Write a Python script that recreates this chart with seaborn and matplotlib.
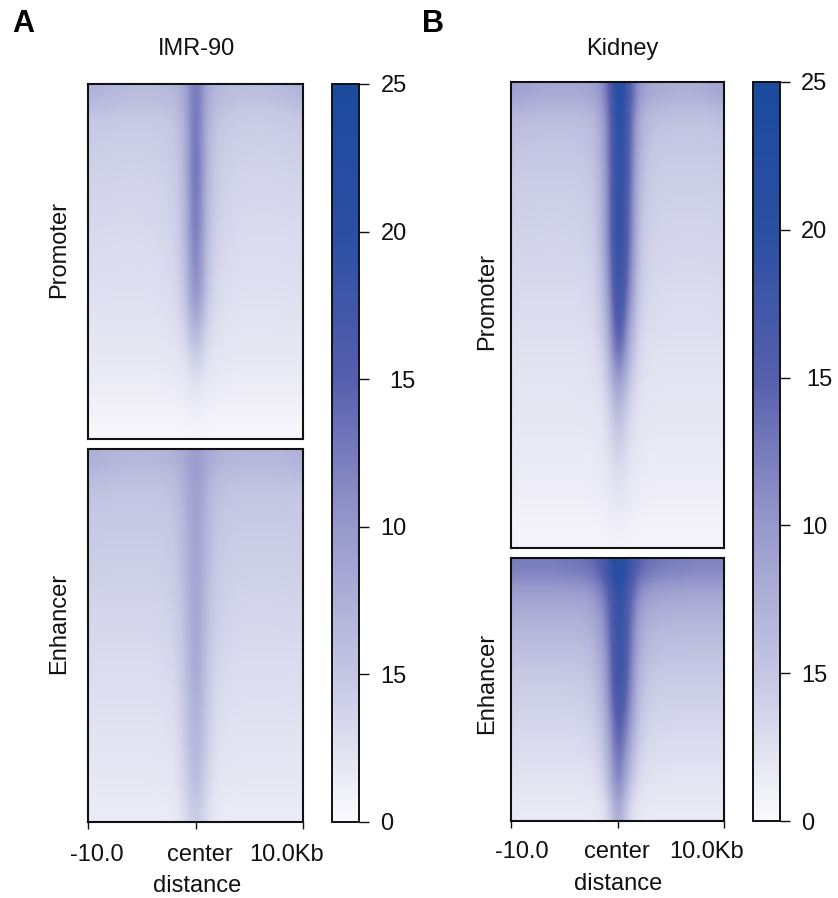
import numpy as np
import matplotlib
matplotlib.use("Agg")
import matplotlib.pyplot as plt
from matplotlib.colors import LinearSegmentedColormap
from matplotlib.transforms import ScaledTranslation
import seaborn as sns

sns.set_theme(style="white")
plt.rcParams['font.family'] = ['Liberation Sans', 'DejaVu Sans']

imr_promoter = [
 [7.2,7.0,6.6,6.4,6.3,6.3,6.3,6.4,6.8,8.5,14.5,8.0,6.8,6.3,6.0,5.8,5.8,6.0,6.2,6.6,7.2],
 [5.0,4.9,4.8,4.7,4.7,4.7,4.8,4.9,5.4,7.6,15.0,7.4,5.4,4.8,4.6,4.5,4.5,4.5,4.6,4.7,4.9],
 [4.5,4.4,4.3,4.3,4.3,4.3,4.4,4.5,5.0,7.2,15.0,7.0,5.0,4.4,4.2,4.2,4.1,4.1,4.2,4.3,4.4],
 [4.1,4.0,4.0,3.9,3.9,4.0,4.0,4.2,4.7,7.0,15.5,6.8,4.7,4.1,3.9,3.8,3.8,3.8,3.8,3.9,4.0],
 [3.8,3.7,3.7,3.7,3.6,3.7,3.7,3.9,4.4,6.8,15.5,6.6,4.4,3.9,3.6,3.5,3.5,3.5,3.5,3.6,3.7],
 [3.5,3.5,3.4,3.4,3.4,3.4,3.5,3.7,4.1,6.5,15.0,6.3,4.2,3.6,3.4,3.3,3.3,3.3,3.3,3.4,3.4],
 [3.3,3.2,3.2,3.2,3.2,3.2,3.3,3.5,3.9,6.3,15.0,6.1,4.0,3.4,3.2,3.1,3.1,3.1,3.1,3.1,3.2],
 [3.0,3.0,3.0,2.9,2.9,3.0,3.0,3.2,3.7,6.0,14.0,5.8,3.7,3.2,3.0,2.9,2.9,2.9,2.9,2.9,3.0],
 [2.8,2.8,2.8,2.8,2.8,2.8,2.9,3.0,3.4,5.6,13.5,5.4,3.4,3.0,2.8,2.7,2.7,2.7,2.7,2.8,2.8],
 [2.6,2.6,2.5,2.5,2.5,2.5,2.6,2.8,3.1,5.0,12.5,4.8,3.1,2.7,2.5,2.5,2.5,2.5,2.5,2.5,2.6],
 [2.3,2.3,2.3,2.3,2.3,2.3,2.3,2.5,2.8,4.2,10.0,4.0,2.8,2.4,2.3,2.2,2.2,2.2,2.3,2.3,2.3],
 [2.0,2.0,2.0,2.0,2.0,2.0,2.0,2.1,2.4,3.3,7.0,3.2,2.4,2.1,2.0,2.0,2.0,2.0,2.0,2.0,2.0],
 [1.7,1.7,1.7,1.7,1.7,1.7,1.7,1.8,1.9,2.5,4.5,2.4,1.9,1.8,1.7,1.7,1.7,1.7,1.7,1.7,1.7],
 [1.3,1.3,1.3,1.3,1.3,1.3,1.3,1.4,1.5,1.8,2.8,1.7,1.5,1.4,1.3,1.3,1.3,1.3,1.3,1.3,1.3],
 [0.9,0.9,0.9,0.9,0.9,0.9,0.9,0.9,1.0,1.1,1.6,1.1,1.0,0.9,0.9,0.9,0.9,0.9,0.9,0.9,0.9],
 [0.4,0.4,0.4,0.4,0.4,0.4,0.4,0.4,0.4,0.5,0.6,0.5,0.4,0.4,0.4,0.4,0.4,0.4,0.4,0.4,0.4],
]
imr_enhancer = [
 [7.6,7.4,7.0,6.8,6.8,6.8,6.8,7.0,7.4,8.4,10.0,8.4,7.4,7.0,6.8,6.8,6.8,6.8,6.8,7.0,7.4],
 [5.6,5.5,5.4,5.3,5.3,5.3,5.3,5.4,5.8,7.6,10.0,7.3,5.8,5.4,5.2,5.2,5.2,5.2,5.2,5.3,5.4],
 [5.0,5.0,4.9,4.9,4.9,4.9,4.9,5.0,5.4,7.2,9.8,7.0,5.4,5.0,4.8,4.8,4.8,4.8,4.8,4.9,4.9],
 [4.7,4.6,4.6,4.6,4.6,4.6,4.6,4.7,5.1,6.9,9.7,6.7,5.1,4.7,4.5,4.5,4.5,4.5,4.5,4.5,4.6],
 [4.4,4.3,4.3,4.3,4.3,4.3,4.3,4.4,4.8,6.6,9.6,6.4,4.8,4.4,4.2,4.2,4.2,4.2,4.2,4.2,4.3],
 [4.1,4.0,4.0,4.0,4.0,4.0,4.0,4.2,4.5,6.4,9.5,6.2,4.6,4.2,4.0,3.9,3.9,3.9,3.9,4.0,4.0],
 [3.7,3.7,3.7,3.7,3.7,3.7,3.7,3.9,4.3,6.1,9.4,5.9,4.3,3.9,3.7,3.6,3.6,3.6,3.6,3.7,3.7],
 [3.4,3.4,3.4,3.4,3.4,3.4,3.4,3.6,4.0,5.9,9.3,5.7,4.0,3.6,3.4,3.3,3.3,3.3,3.3,3.4,3.4],
 [3.2,3.2,3.2,3.2,3.2,3.2,3.2,3.4,3.7,5.7,9.2,5.5,3.7,3.4,3.2,3.2,3.2,3.2,3.2,3.2,3.2],
 [2.9,2.9,2.9,2.9,2.9,2.9,2.9,3.1,3.4,5.5,9.0,5.3,3.4,3.1,2.9,2.9,2.9,2.9,2.9,2.9,2.9],
 [2.7,2.7,2.7,2.7,2.7,2.7,2.7,2.8,3.1,5.2,8.5,5.0,3.1,2.8,2.7,2.6,2.6,2.6,2.6,2.7,2.7],
 [2.4,2.4,2.4,2.4,2.4,2.4,2.4,2.5,2.8,4.9,8.0,4.7,2.8,2.5,2.4,2.4,2.4,2.4,2.4,2.4,2.4],
 [2.2,2.2,2.2,2.2,2.2,2.2,2.2,2.3,2.6,4.6,7.6,4.4,2.6,2.3,2.2,2.2,2.2,2.2,2.2,2.2,2.2],
 [2.0,2.0,2.0,2.0,2.0,2.0,2.0,2.1,2.3,4.3,7.2,4.1,2.3,2.1,2.0,2.0,2.0,2.0,2.0,2.0,2.0],
 [1.7,1.7,1.7,1.7,1.7,1.7,1.7,1.8,2.0,3.9,6.6,3.6,2.0,1.8,1.7,1.7,1.7,1.7,1.7,1.7,1.7],
 [1.4,1.4,1.4,1.4,1.4,1.4,1.4,1.4,1.6,3.0,5.2,2.8,1.6,1.4,1.4,1.4,1.4,1.4,1.4,1.4,1.4],
]
kid_promoter = [
 [9.3,9.0,8.6,8.4,8.3,8.3,8.4,8.6,9.4,13.0,23.0,17.0,10.0,8.6,8.0,7.8,7.6,7.6,7.8,8.2,8.8],
 [6.2,6.1,6.0,5.9,5.9,5.9,6.0,6.2,7.0,11.5,22.5,16.5,8.0,6.1,5.7,5.5,5.4,5.4,5.4,5.5,5.7],
 [5.4,5.3,5.2,5.2,5.2,5.2,5.3,5.5,6.4,11.0,22.0,16.0,7.3,5.5,5.0,4.9,4.9,4.8,4.8,4.9,5.1],
 [4.9,4.8,4.7,4.7,4.7,4.7,4.8,5.0,5.9,11.0,22.0,16.0,6.8,5.0,4.5,4.5,4.4,4.4,4.4,4.4,4.6],
 [4.4,4.3,4.3,4.3,4.3,4.3,4.4,4.6,5.5,10.5,22.0,15.5,6.3,4.6,4.2,4.1,4.1,4.1,4.1,4.1,4.2],
 [4.0,4.0,4.0,3.9,3.9,4.0,4.0,4.2,5.1,10.5,22.0,15.0,5.9,4.2,3.9,3.8,3.8,3.8,3.8,3.8,3.9],
 [3.8,3.8,3.8,3.7,3.7,3.8,3.8,4.0,4.8,10.5,22.0,15.0,5.5,4.0,3.7,3.6,3.6,3.6,3.6,3.6,3.7],
 [3.5,3.5,3.5,3.5,3.5,3.5,3.5,3.7,4.5,10.0,21.5,14.5,5.1,3.7,3.4,3.4,3.3,3.3,3.3,3.4,3.4],
 [3.3,3.3,3.3,3.3,3.3,3.3,3.3,3.5,4.1,9.0,21.0,13.5,4.7,3.5,3.2,3.2,3.2,3.2,3.2,3.2,3.2],
 [3.0,3.0,3.0,3.0,3.0,3.0,3.0,3.2,3.8,8.0,20.0,12.0,4.2,3.2,3.0,2.9,2.9,2.9,2.9,2.9,3.0],
 [2.7,2.7,2.7,2.7,2.7,2.7,2.7,2.9,3.4,7.0,18.5,10.0,3.7,2.9,2.7,2.7,2.7,2.7,2.7,2.7,2.7],
 [2.4,2.4,2.4,2.4,2.4,2.4,2.4,2.5,3.0,5.5,16.5,8.0,3.3,2.6,2.4,2.4,2.4,2.4,2.4,2.4,2.4],
 [2.2,2.2,2.2,2.2,2.2,2.2,2.2,2.3,2.6,4.5,12.5,6.0,2.8,2.3,2.2,2.2,2.2,2.2,2.2,2.2,2.2],
 [2.0,2.0,2.0,2.0,2.0,2.0,2.0,2.1,2.3,3.5,9.0,4.4,2.5,2.1,2.0,2.0,2.0,2.0,2.0,2.0,2.0],
 [1.8,1.8,1.8,1.8,1.8,1.8,1.8,1.9,2.0,2.9,6.5,3.4,2.1,1.9,1.8,1.8,1.8,1.8,1.8,1.8,1.8],
 [1.6,1.6,1.6,1.6,1.6,1.6,1.6,1.6,1.8,2.4,5.0,2.8,1.9,1.7,1.6,1.6,1.6,1.6,1.6,1.6,1.6],
 [1.4,1.4,1.4,1.4,1.4,1.4,1.4,1.4,1.5,2.0,3.5,2.2,1.6,1.4,1.4,1.4,1.4,1.4,1.4,1.4,1.4],
 [1.2,1.2,1.2,1.2,1.2,1.2,1.2,1.2,1.3,1.6,2.5,1.8,1.3,1.2,1.2,1.2,1.2,1.2,1.2,1.2,1.2],
 [0.9,0.9,0.9,0.9,0.9,0.9,0.9,0.9,1.0,1.2,1.6,1.3,1.0,0.9,0.9,0.9,0.9,0.9,0.9,0.9,0.9],
 [0.6,0.6,0.6,0.6,0.6,0.6,0.6,0.6,0.6,0.7,0.9,0.7,0.6,0.6,0.6,0.6,0.6,0.6,0.6,0.6,0.6],
]
kid_enhancer = [
 [12.5,12.5,12.5,12.5,12.5,13.0,13.0,13.5,14.5,18.0,22.5,19.0,15.0,13.5,13.0,12.5,12.5,12.0,12.0,12.0,12.0],
 [9.3,9.3,9.3,9.3,9.3,9.3,9.3,9.8,11.0,14.0,21.0,16.5,11.0,9.6,9.1,8.8,8.8,8.6,8.6,8.6,8.6],
 [7.6,7.6,7.6,7.6,7.6,7.6,7.7,8.0,9.2,12.5,20.5,15.5,9.4,8.0,7.5,7.3,7.3,7.2,7.2,7.2,7.2],
 [6.4,6.4,6.4,6.4,6.4,6.4,6.5,6.8,8.0,11.5,20.5,15.0,8.2,6.8,6.3,6.2,6.2,6.1,6.1,6.1,6.1],
 [5.4,5.4,5.4,5.4,5.4,5.4,5.5,5.8,7.0,10.5,20.5,14.5,7.4,5.8,5.4,5.3,5.3,5.2,5.2,5.2,5.2],
 [4.6,4.6,4.6,4.6,4.6,4.6,4.7,5.0,6.1,10.0,20.0,14.0,6.4,5.0,4.6,4.5,4.5,4.5,4.5,4.5,4.5],
 [4.0,4.0,4.0,4.0,4.0,4.0,4.1,4.3,5.3,9.2,19.0,13.0,5.7,4.3,4.0,3.9,3.9,3.9,3.9,3.9,3.9],
 [3.5,3.5,3.5,3.5,3.5,3.5,3.6,3.8,4.6,8.0,17.5,11.5,4.9,3.8,3.5,3.5,3.4,3.4,3.4,3.4,3.4],
 [3.0,3.0,3.0,3.0,3.0,3.0,3.0,3.2,3.9,7.0,16.0,9.5,4.2,3.2,3.0,2.9,2.9,2.9,2.9,2.9,2.9],
 [2.5,2.5,2.5,2.5,2.5,2.5,2.5,2.6,3.2,6.0,14.5,7.5,3.4,2.6,2.5,2.4,2.4,2.4,2.4,2.4,2.4],
 [2.0,2.0,2.0,2.0,2.0,2.0,2.0,2.1,2.5,4.5,13.0,5.5,2.7,2.1,2.0,1.9,1.9,1.9,1.9,1.9,1.9],
 [1.5,1.5,1.5,1.5,1.5,1.5,1.5,1.5,1.7,2.6,9.5,3.0,1.8,1.5,1.5,1.5,1.5,1.5,1.5,1.5,1.5],
]
x_tick_labels = ["-10.0", "center", "10.0Kb"]
cbar_values = [0, 5, 10, 15, 20, 25]
cbar_labels = ["0", "15", "10", "15", "20", "25"]

W, H = 838, 898
cmap = LinearSegmentedColormap.from_list(
    "hm", [(0, "#fbfafe"), (0.2, "#c4c6e3"), (0.4, "#9798cc"),
           (0.6, "#565fad"), (0.8, "#2b4fa3"), (1, "#1b4a9e")], N=256)

fig = plt.figure(figsize=(W / 100, H / 100), dpi=100, facecolor="white")


def axes_px(x0, y0, x1, y1):
    return fig.add_axes([x0 / W, 1 - y1 / H, (x1 - x0) / W, (y1 - y0) / H])


def panel(values, box, cax=None):
    ax = axes_px(*box)
    arr = np.array(values)
    sns.heatmap(arr, ax=ax, cmap=cmap, vmin=0, vmax=25,
                cbar=cax is not None, cbar_ax=cax,
                xticklabels=False, yticklabels=False)
    # smooth display of the same cells
    r, c = arr.shape
    ax.imshow(arr, extent=(0, c, r, 0), aspect="auto", cmap=cmap, vmin=0, vmax=25,
              interpolation="bicubic", zorder=2)
    ax.set_xlim(0, c)
    ax.set_ylim(r, 0)
    for s in ax.spines.values():
        s.set_visible(True)
        s.set_color("#111111")
        s.set_linewidth(1.5)
        s.set_zorder(5)
    return ax


def finish_bottom(ax, shifts, pad):
    c = ax.get_xlim()[1]
    ax.set_xticks([0, c / 2, c])
    ax.set_xticklabels(x_tick_labels, fontsize=17, color="#111111")
    ax.tick_params(axis="x", bottom=True, length=5, width=1, color="#111111", pad=pad)
    for lab, dx in zip(ax.get_xticklabels(), shifts):
        lab.set_transform(lab.get_transform() + ScaledTranslation(dx / 100, 0, fig.dpi_scale_trans))


def finish_cbar(ax, pad, pad15):
    cb = ax.collections[0].colorbar
    cb.set_ticks(cbar_values)
    cb.set_ticklabels(cbar_labels)
    cb.ax.tick_params(axis="y", right=True, length=7, width=1, color="#111111",
                      labelsize=17, labelcolor="#111111", pad=pad)
    cb.ax.yaxis.get_major_ticks()[3].set_pad(pad15)
    cb.outline.set_visible(True)
    cb.outline.set_edgecolor("#111111")
    cb.outline.set_linewidth(1.4)


def put(x, y, s, **kw):
    kw.setdefault("fontsize", 17)
    kw.setdefault("color", "#111111")
    fig.text(x / W, 1 - y / H, s, ha="center", va="center", **kw)


# Panel A
cax_a = axes_px(332, 84, 359, 822)
panel(imr_promoter, (88, 84, 303, 439))
ax_a = panel(imr_enhancer, (88, 449, 303, 822), cax=cax_a)
finish_bottom(ax_a, [9, 4.5, -16], 10.5)
finish_cbar(ax_a, 8.5, 14.5)

# Panel B
cax_b = axes_px(753, 82, 780, 821)
panel(kid_promoter, (511, 82, 724, 548))
ax_b = panel(kid_enhancer, (511, 558, 724, 821), cax=cax_b)
finish_bottom(ax_b, [11, -0.5, -17.5], 9.5)
finish_cbar(ax_b, 8.0, 12.0)

put(23, 24, "A", fontsize=22, fontweight="bold", color="black")
put(433, 23.5, "B", fontsize=22, fontweight="bold", color="black")
put(196, 49, "IMR-90")
put(622, 49, "Kidney")
put(59, 250, "Promoter", rotation=90)
put(59, 623, "Enhancer", rotation=90)
put(487, 302, "Promoter", rotation=90)
put(487, 683, "Enhancer", rotation=90)
put(197.5, 886, "distance")
put(618, 884, "distance")

fig.savefig("out.png", dpi=100, facecolor="white")
